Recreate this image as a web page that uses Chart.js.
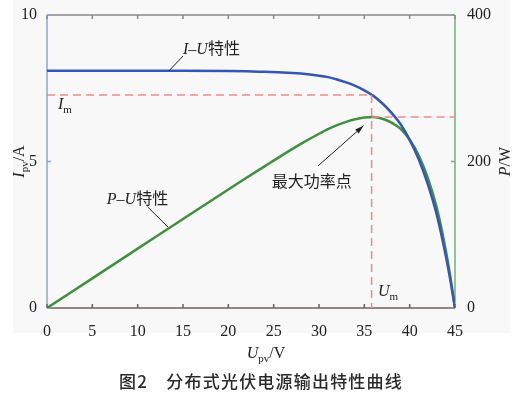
<!DOCTYPE html>
<html>
<head>
<meta charset="utf-8">
<script src="https://cdn.jsdelivr.net/npm/chart.js@4"></script>
<style>
  html, body { margin: 0; padding: 0; background: #fff; }
  #wrap { position: relative; width: 521px; height: 396px; }
</style>
</head>
<body>
<div id="wrap"><canvas id="pv" width="521" height="396"></canvas></div>
<script>
// PV output curves: I-U (left axis) and P-U (right axis)
const voltage = [0, 5, 10, 15, 20, 22, 24, 26, 28, 30, 31, 32, 33, 34, 35, 36, 37, 38, 39, 40, 41, 42, 43, 44, 44.5, 45];
const current = [8.1, 8.1, 8.1, 8.1, 8.09, 8.08, 8.06, 8.04, 8.0, 7.93, 7.88, 7.8, 7.7, 7.58, 7.43, 7.24, 6.98, 6.66, 6.27, 5.74, 5.08, 4.23, 3.17, 1.76, 0.93, 0];
const power   = [0, 40.5, 81, 121.5, 161.8, 177.8, 193.4, 209, 224, 237.9, 244.3, 249.6, 254.1, 257.7, 260, 260.6, 258.3, 253.1, 244.5, 229.6, 208.3, 177.7, 136.3, 77.4, 41.4, 0];

const xTicks = [0, 45, 5];     // min, max, step
const iTicks = [0, 10, 5];
const pTicks = [0, 400, 200];

// maximum power point
const Um = 35.8;
const Im = 7.27;
const Pm = 260.6;

const BLUE  = "#3556b4";
const GREEN = "#3f8f3f";
const RED   = "#f08a8a";
const SERIF = "'Liberation Serif', 'DejaVu Serif', serif";
const CJK   = "'Noto Sans CJK SC', sans-serif";

function pts(xs, ys) {
  return xs.map((x, i) => ({ x, y: ys[i] }));
}

// draw a run of text pieces with different fonts / subscripts
function rich(ctx, parts, x, y, align) {
  let total = 0;
  parts.forEach(p => { ctx.font = p.f; total += ctx.measureText(p.t).width; });
  let cx = align === "center" ? x - total / 2 : x;
  ctx.textAlign = "left";
  ctx.textBaseline = "alphabetic";
  parts.forEach(p => {
    ctx.font = p.f;
    ctx.fillText(p.t, cx, y + (p.dy || 0));
    cx += ctx.measureText(p.t).width;
  });
}

const it  = t => ({ t, f: "italic 16px " + SERIF });
const rm  = t => ({ t, f: "16px " + SERIF });
const sub = t => ({ t, f: "11px " + SERIF, dy: 4 });
const cj  = t => ({ t, f: "16px " + CJK });

const decor = {
  id: "decor",
  beforeDraw(chart) {
    const ctx = chart.ctx;
    ctx.save();
    ctx.fillStyle = "#f8f8f8";
    ctx.fillRect(13, 0, 497, 333);
    ctx.restore();
  },
  beforeDatasetsDraw(chart) {
    const { ctx, chartArea: a, scales } = chart;
    ctx.save();
    ctx.lineWidth = 1.5;
    const line = (c, x1, y1, x2, y2) => {
      ctx.strokeStyle = c;
      ctx.beginPath(); ctx.moveTo(x1, y1); ctx.lineTo(x2, y2); ctx.stroke();
    };
    // frame
    line("#8a8a8a", a.left, a.top, a.right, a.top);
    line("#6e6060", a.left, a.bottom, a.right, a.bottom);
    line("#8fa0e0", a.left, a.top, a.left, a.bottom);
    line("#74b074", a.right, a.top, a.right, a.bottom);
    // inward ticks
    scales.x.ticks.forEach(t => {
      const px = scales.x.getPixelForValue(t.value);
      line("#6e6060", px, a.bottom, px, a.bottom - 4);
      line("#8a8a8a", px, a.top, px, a.top + 4);
    });
    scales.y.ticks.forEach(t => {
      const py = scales.y.getPixelForValue(t.value);
      line("#8fa0e0", a.left, py, a.left + 4, py);
    });
    scales.y2.ticks.forEach(t => {
      const py = scales.y2.getPixelForValue(t.value);
      line("#74b074", a.right, py, a.right - 4, py);
    });
    ctx.restore();
  },
  afterDatasetsDraw(chart) {
    const { ctx, chartArea: a, scales } = chart;
    const X = v => scales.x.getPixelForValue(v);
    const Y = v => scales.y.getPixelForValue(v);
    ctx.save();
    ctx.fillStyle = "#222";
    ctx.strokeStyle = "#222";
    ctx.lineWidth = 1;

    // leader lines
    ctx.beginPath();
    ctx.moveTo(X(13.45), Y(8.09)); ctx.lineTo(X(15.0), Y(8.6));
    ctx.moveTo(X(11.1), Y(3.45)); ctx.lineTo(X(13.35), Y(2.76));
    ctx.stroke();

    // arrow to max power point
    const x1 = X(29.9), y1 = Y(4.85), x2 = X(34.9), y2 = Y(6.22);
    ctx.beginPath(); ctx.moveTo(x1, y1); ctx.lineTo(x2, y2); ctx.stroke();
    const ang = Math.atan2(y2 - y1, x2 - x1);
    ctx.beginPath();
    ctx.moveTo(x2, y2);
    ctx.lineTo(x2 - 9 * Math.cos(ang - 0.3), y2 - 9 * Math.sin(ang - 0.3));
    ctx.lineTo(x2 - 9 * Math.cos(ang + 0.3), y2 - 9 * Math.sin(ang + 0.3));
    ctx.closePath(); ctx.fill();

    // labels
    rich(ctx, [it("I"), rm("–"), it("U"), cj("特性")], X(15.0), Y(8.68));
    rich(ctx, [it("I"), sub("m")], X(1.2), Y(6.8));
    rich(ctx, [it("P"), rm("–"), it("U"), cj("特性")], X(6.6), Y(3.55));
    rich(ctx, [cj("最大功率点")], X(24.8), Y(4.13));
    rich(ctx, [it("U"), sub("m")], X(36.5), Y(0.4));

    // axis titles
    rich(ctx, [it("U"), sub("pv"), rm("/V")], 266, 358, "center");
    ctx.save();
    ctx.translate(24, (a.top + a.bottom) / 2);
    ctx.rotate(-Math.PI / 2);
    rich(ctx, [it("I"), sub("pv"), rm("/A")], 0, 0, "center");
    ctx.restore();
    ctx.save();
    ctx.translate(510, (a.top + a.bottom) / 2);
    ctx.rotate(-Math.PI / 2);
    rich(ctx, [it("P"), rm("/W")], 0, 0, "center");
    ctx.restore();

    // caption
    ctx.fillStyle = "#2a2a2a";
    ctx.font = "500 17px " + CJK;
    ctx.letterSpacing = "1.2px";
    ctx.textAlign = "center";
    ctx.fillText("图2　分布式光伏电源输出特性曲线", 261, 388);
    ctx.restore();
  }
};

const dashed = { borderColor: RED, borderWidth: 1.5, borderDash: [8, 5], pointRadius: 0, fill: false, tension: 0 };

new Chart(document.getElementById("pv"), {
  type: "line",
  data: {
    datasets: [
      { ...dashed, label: "Im", yAxisID: "y", data: [{ x: 0, y: Im }, { x: Um, y: Im }] },
      { ...dashed, label: "Um", yAxisID: "y", data: [{ x: Um, y: Im }, { x: Um, y: 0 }] },
      { ...dashed, label: "Pm", yAxisID: "y2", data: [{ x: Um, y: Pm }, { x: 45, y: Pm }] },
      {
        label: "I-U", yAxisID: "y", data: pts(voltage, current),
        borderColor: BLUE, borderWidth: 2.5, pointRadius: 0,
        cubicInterpolationMode: "monotone", fill: false,
      },
      {
        label: "P-U", yAxisID: "y2", data: pts(voltage, power),
        borderColor: GREEN, borderWidth: 2.5, pointRadius: 0,
        cubicInterpolationMode: "monotone", fill: false,
      },
    ],
  },
  options: {
    responsive: false,
    animation: false,
    layout: { padding: { top: 15, left: 0, right: 0, bottom: 0 } },
    plugins: { legend: { display: false }, tooltip: { enabled: false } },
    scales: {
      x: {
        type: "linear", min: xTicks[0], max: xTicks[1],
        grid: { display: false }, border: { display: false },
        ticks: { stepSize: xTicks[2], color: "#222", padding: 6, font: { family: SERIF, size: 16 }, maxRotation: 0 },
        afterFit: s => { s.height = 396 - 308; },
      },
      y: {
        position: "left", min: iTicks[0], max: iTicks[1],
        grid: { display: false }, border: { display: false },
        ticks: { stepSize: iTicks[2], color: "#222", padding: 2, font: { family: SERIF, size: 16 } },
        afterFit: s => { s.width = 47; },
      },
      y2: {
        position: "right", min: pTicks[0], max: pTicks[1],
        grid: { display: false }, border: { display: false },
        ticks: { stepSize: pTicks[2], color: "#222", padding: 4, font: { family: SERIF, size: 16 } },
        afterFit: s => { s.width = 521 - 455; },
      },
    },
  },
  plugins: [decor],
});
</script>
</body>
</html>
